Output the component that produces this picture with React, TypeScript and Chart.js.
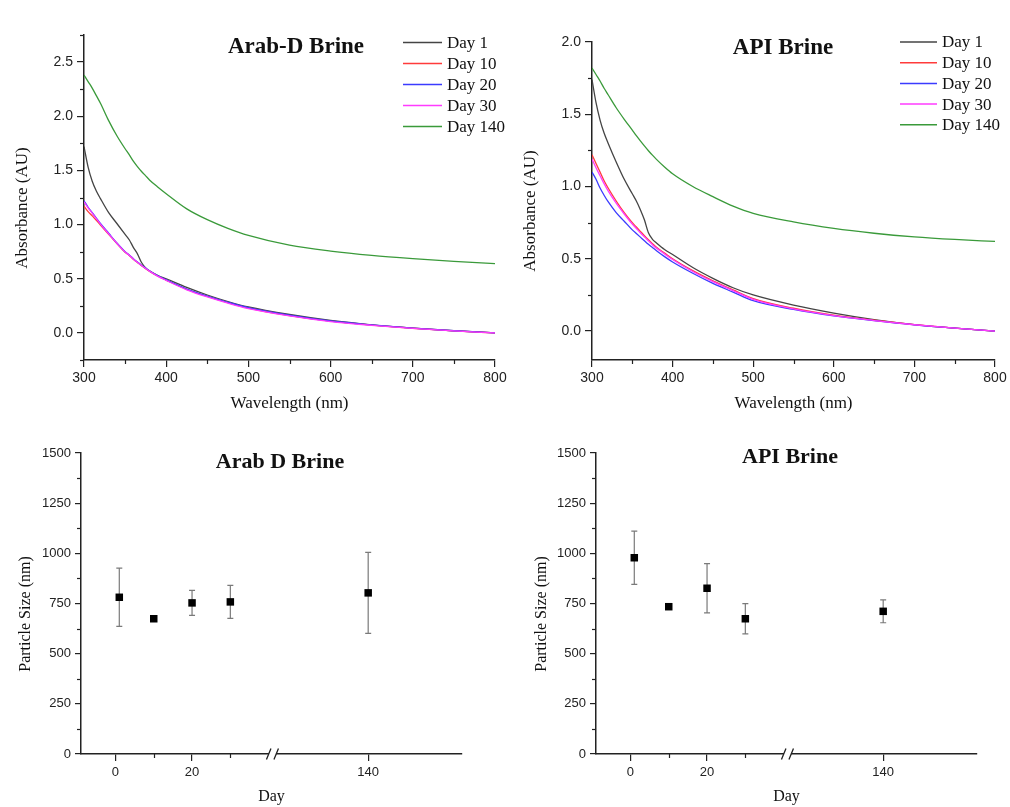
import React, { useEffect, useRef } from "react";
import { Chart, registerables } from "chart.js";

Chart.register(...registerables);

const PAGE_W = 1010;
const PAGE_H = 807;
const SANS = '"Liberation Sans", Arial, sans-serif';
const SERIF = '"Liberation Serif", "Times New Roman", serif';

// ---------- UV-Vis data ----------
const wavelengths = [300, 305, 310, 315, 320, 330, 340, 350, 355, 360, 365, 370, 375, 380, 390, 400, 425, 450, 475, 500, 550, 600, 650, 700, 750, 800];

const arabDay1 = [1.72, 1.53, 1.40, 1.31, 1.24, 1.11, 1.01, 0.91, 0.86, 0.79, 0.73, 0.65, 0.60, 0.57, 0.53, 0.50, 0.42, 0.35, 0.29, 0.24, 0.17, 0.115, 0.075, 0.045, 0.02, 0.0];
const arabDay10 = [1.17, 1.12, 1.08, 1.04, 0.995, 0.91, 0.825, 0.745, 0.715, 0.68, 0.65, 0.62, 0.593, 0.568, 0.523, 0.487, 0.402, 0.337, 0.28, 0.23, 0.16, 0.108, 0.072, 0.043, 0.019, 0.0];
const arabDay20 = [1.22, 1.16, 1.11, 1.06, 1.01, 0.92, 0.83, 0.75, 0.72, 0.685, 0.655, 0.625, 0.598, 0.572, 0.527, 0.49, 0.405, 0.34, 0.283, 0.233, 0.163, 0.11, 0.074, 0.045, 0.02, 0.0];
const arabDay30 = [1.21, 1.155, 1.105, 1.055, 1.005, 0.915, 0.828, 0.748, 0.717, 0.683, 0.652, 0.622, 0.594, 0.568, 0.522, 0.485, 0.398, 0.332, 0.275, 0.225, 0.157, 0.105, 0.07, 0.042, 0.018, 0.0];
const arabDay140 = [2.38, 2.32, 2.26, 2.19, 2.12, 1.96, 1.82, 1.70, 1.645, 1.585, 1.535, 1.49, 1.45, 1.41, 1.345, 1.285, 1.145, 1.045, 0.965, 0.90, 0.81, 0.755, 0.715, 0.685, 0.66, 0.64];

const apiDay1 = [1.74, 1.58, 1.46, 1.37, 1.30, 1.17, 1.05, 0.95, 0.90, 0.84, 0.77, 0.68, 0.635, 0.61, 0.565, 0.53, 0.44, 0.365, 0.30, 0.25, 0.18, 0.125, 0.08, 0.045, 0.02, 0.0];
const apiDay10 = [1.22, 1.16, 1.10, 1.04, 0.99, 0.90, 0.82, 0.75, 0.72, 0.69, 0.66, 0.632, 0.605, 0.58, 0.54, 0.50, 0.418, 0.348, 0.285, 0.225, 0.158, 0.11, 0.075, 0.045, 0.02, 0.0];
const apiDay20 = [1.10, 1.05, 0.99, 0.94, 0.895, 0.82, 0.76, 0.70, 0.675, 0.65, 0.625, 0.60, 0.578, 0.556, 0.515, 0.478, 0.40, 0.33, 0.27, 0.21, 0.15, 0.105, 0.072, 0.043, 0.02, 0.0];
const apiDay30 = [1.19, 1.13, 1.075, 1.02, 0.97, 0.885, 0.81, 0.74, 0.71, 0.68, 0.652, 0.625, 0.598, 0.574, 0.534, 0.495, 0.412, 0.342, 0.28, 0.22, 0.154, 0.107, 0.073, 0.044, 0.02, 0.0];
const apiDay140 = [1.82, 1.775, 1.73, 1.68, 1.635, 1.545, 1.465, 1.39, 1.352, 1.316, 1.281, 1.248, 1.217, 1.188, 1.135, 1.088, 1.00, 0.93, 0.865, 0.815, 0.755, 0.71, 0.677, 0.652, 0.634, 0.62];

const dayLabels = ["Day 1", "Day 10", "Day 20", "Day 30", "Day 140"];
const lineColors = ["#444444", "#ff3b3b", "#3b3bff", "#ff3bff", "#3a9a3a"];

// ---------- Particle size data ----------
const sampleDays = [1, 10, 20, 30, 140];
const arabSize = [781, 674, 753, 758, 803];
const arabErr = [145, 12, 62, 82, 202];
const apiSize = [978, 734, 826, 674, 711];
const apiErr = [133, 14, 123, 75, 57];

// ---------- tick values ----------
const uvXTicks = [300, 350, 400, 450, 500, 550, 600, 650, 700, 750, 800];
const arabYTicks = [-0.25, 0, 0.25, 0.5, 0.75, 1, 1.25, 1.5, 1.75, 2, 2.25, 2.5, 2.75];
const apiYTicks = [0, 0.25, 0.5, 0.75, 1, 1.25, 1.5, 1.75, 2];
const sizeYTicks = [0, 125, 250, 375, 500, 625, 750, 875, 1000, 1125, 1250, 1375, 1500];
const dayTicks = [0, 10, 20, 30, 140];
const dayTickLabels = ["0", "", "20", "", "140"];

// broken day axis: days after the break are shifted left
const BREAK_SHIFT = 74;
const BREAK_POS = 41;
const mapDay = (d: number) => (d >= 100 ? d - BREAK_SHIFT : d);

// ---------- decoration plugin ----------
const decoPlugin = {
  id: "deco",
  beforeDatasetsDraw(chart: any, _args: any, opts: any) {
    if (!opts || !opts.errors) return;
    const ctx = chart.ctx;
    const xs = chart.scales.x;
    const ys = chart.scales.y;
    const data = chart.data.datasets[0].data;
    ctx.save();
    ctx.strokeStyle = "#7a7a7a";
    ctx.lineWidth = 1.2;
    data.forEach((p: any, i: number) => {
      const e = opts.errors[i];
      const px = xs.getPixelForValue(p.x);
      const y1 = ys.getPixelForValue(p.y + e);
      const y2 = ys.getPixelForValue(p.y - e);
      ctx.beginPath();
      ctx.moveTo(px, y1);
      ctx.lineTo(px, y2);
      ctx.moveTo(px - 3, y1);
      ctx.lineTo(px + 3, y1);
      ctx.moveTo(px - 3, y2);
      ctx.lineTo(px + 3, y2);
      ctx.stroke();
    });
    ctx.restore();
  },
  afterDraw(chart: any, _args: any, opts: any) {
    const ctx = chart.ctx;
    const area = chart.chartArea;
    ctx.save();
    // minor ticks
    ctx.strokeStyle = "#222";
    ctx.lineWidth = 1.2;
    const xs = chart.scales.x;
    const ys = chart.scales.y;
    ys.ticks.forEach((t: any) => {
      if (t.label !== "") return;
      const py = Math.round(ys.getPixelForValue(t.value)) + 0.5;
      ctx.beginPath();
      ctx.moveTo(area.left, py);
      ctx.lineTo(area.left - 4, py);
      ctx.stroke();
    });
    xs.ticks.forEach((t: any) => {
      if (t.label !== "") return;
      const px = Math.round(xs.getPixelForValue(t.value)) + 0.5;
      ctx.beginPath();
      ctx.moveTo(px, area.bottom);
      ctx.lineTo(px, area.bottom + 4);
      ctx.stroke();
    });

    // axis break
    if (opts.breakAt !== undefined) {
      const px = xs.getPixelForValue(opts.breakAt);
      const py = area.bottom;
      ctx.fillStyle = "#ffffff";
      ctx.fillRect(px - 3.5, py - 2, 7, 4);
      ctx.strokeStyle = "#222";
      ctx.lineWidth = 1.3;
      ctx.beginPath();
      ctx.moveTo(px - 6, py + 5.5);
      ctx.lineTo(px - 1.5, py - 5.5);
      ctx.moveTo(px + 1.5, py + 5.5);
      ctx.lineTo(px + 6, py - 5.5);
      ctx.stroke();
    }

    // title
    ctx.fillStyle = "#111";
    ctx.font = `bold ${opts.titleSize}px ${SERIF}`;
    ctx.textAlign = "center";
    ctx.textBaseline = "alphabetic";
    ctx.fillText(opts.title, opts.titleX, opts.titleY);

    // legend
    if (opts.legend) {
      const lg = opts.legend;
      ctx.font = `17px ${SERIF}`;
      ctx.textAlign = "left";
      ctx.textBaseline = "middle";
      dayLabels.forEach((lab, i) => {
        const y = lg.y0 + i * lg.dy;
        ctx.strokeStyle = lineColors[i];
        ctx.lineWidth = 1.5;
        ctx.beginPath();
        ctx.moveTo(lg.x1, y);
        ctx.lineTo(lg.x2, y);
        ctx.stroke();
        ctx.fillStyle = "#111";
        ctx.fillText(lab, lg.tx, y + 1);
      });
    }

    // y-axis title
    ctx.save();
    ctx.translate(opts.yTitleX, opts.yTitleY);
    ctx.rotate(-Math.PI / 2);
    ctx.font = `${opts.yTitleSize}px ${SERIF}`;
    ctx.fillStyle = "#111";
    ctx.textAlign = "center";
    ctx.textBaseline = "middle";
    ctx.fillText(opts.yTitle, 0, 0);
    ctx.restore();

    ctx.restore();
  },
};

type Area = { l: number; r: number; t: number; b: number };

function layoutFor(area: Area, xTitleCY: number, xTitleSize: number) {
  const yW = 40;
  const xH = xTitleCY + (xTitleSize * 1.2) / 2 - area.b;
  return {
    yW,
    xH,
    padding: {
      left: area.l - yW,
      right: PAGE_W - area.r,
      top: area.t,
      bottom: PAGE_H - area.b - xH,
    },
  };
}

function tickColorFn(c: any) {
  return c.tick && c.tick.label === "" ? "rgba(0,0,0,0)" : "#222";
}

function uvConfig(series: number[][], area: Area, yMin: number, yMax: number, yTicks: number[], deco: any) {
  const lay = layoutFor(area, 404, 17);
  return {
    type: "line",
    data: {
      datasets: series.map((vals, i) => ({
        label: dayLabels[i],
        data: wavelengths.map((w, j) => ({ x: w, y: vals[j] })),
        borderColor: lineColors[i],
        borderWidth: 1.3,
        pointRadius: 0,
        fill: false,
        cubicInterpolationMode: "monotone",
        order: -i,
      })),
    },
    options: {
      responsive: false,
      animation: false,
      devicePixelRatio: 1,
      layout: { padding: lay.padding },
      plugins: { legend: { display: false }, tooltip: { enabled: false }, deco },
      scales: {
        x: {
          type: "linear",
          position: "bottom",
          min: 300,
          max: 800,
          afterBuildTicks: (s: any) => {
            s.ticks = uvXTicks.map((v) => ({ value: v }));
          },
          afterFit: (s: any) => {
            s.height = lay.xH;
          },
          ticks: {
            autoSkip: false,
            maxRotation: 0,
            padding: 3,
            color: "#222",
            font: { family: SANS, size: 14 },
            callback: (v: any) => (Number(v) % 100 === 0 ? String(v) : ""),
          },
          grid: { display: true, drawOnChartArea: false, drawTicks: true, tickLength: 7, tickColor: tickColorFn, lineWidth: 1.2 },
          border: { display: true, color: "#222", width: 1.5 },
          title: { display: true, text: "Wavelength (nm)", color: "#111", padding: 0, font: { family: SERIF, size: 17 } },
        },
        y: {
          type: "linear",
          position: "left",
          min: yMin,
          max: yMax,
          afterBuildTicks: (s: any) => {
            s.ticks = yTicks.map((v) => ({ value: v }));
          },
          afterFit: (s: any) => {
            s.width = lay.yW;
          },
          ticks: {
            autoSkip: false,
            padding: 4,
            color: "#222",
            font: { family: SANS, size: 14 },
            callback: (v: any) => {
              const n = Number(v);
              return Math.abs(n * 2 - Math.round(n * 2)) < 1e-6 ? n.toFixed(1) : "";
            },
          },
          grid: { display: true, drawOnChartArea: false, drawTicks: true, tickLength: 7, tickColor: tickColorFn, lineWidth: 1.2 },
          border: { display: true, color: "#222", width: 1.5 },
        },
      },
    },
    plugins: [decoPlugin],
  };
}

function sizeConfig(sizes: number[], area: Area, deco: any) {
  const lay = layoutFor(area, 797, 16);
  return {
    type: "scatter",
    data: {
      datasets: [
        {
          label: "Particle size",
          data: sampleDays.map((d, i) => ({ x: mapDay(d), y: sizes[i] })),
          backgroundColor: "#000",
          borderWidth: 0,
          pointStyle: "rect",
          pointRadius: 5.3,
          showLine: false,
        },
      ],
    },
    options: {
      responsive: false,
      animation: false,
      devicePixelRatio: 1,
      layout: { padding: lay.padding },
      plugins: { legend: { display: false }, tooltip: { enabled: false }, deco },
      scales: {
        x: {
          type: "linear",
          position: "bottom",
          min: -9,
          max: 90.5,
          afterBuildTicks: (s: any) => {
            s.ticks = dayTicks.map((d) => ({ value: mapDay(d) }));
          },
          afterFit: (s: any) => {
            s.height = lay.xH;
          },
          ticks: {
            autoSkip: false,
            maxRotation: 0,
            padding: 4,
            color: "#222",
            font: { family: SANS, size: 13 },
            callback: (_v: any, i: number) => dayTickLabels[i],
          },
          grid: { display: true, drawOnChartArea: false, drawTicks: true, tickLength: 7, tickColor: tickColorFn, lineWidth: 1.2 },
          border: { display: true, color: "#222", width: 1.5 },
          title: { display: true, text: "Day", color: "#111", padding: 0, font: { family: SERIF, size: 16 } },
        },
        y: {
          type: "linear",
          position: "left",
          min: 0,
          max: 1500,
          afterBuildTicks: (s: any) => {
            s.ticks = sizeYTicks.map((v) => ({ value: v }));
          },
          afterFit: (s: any) => {
            s.width = lay.yW;
          },
          ticks: {
            autoSkip: false,
            padding: 4,
            color: "#222",
            font: { family: SANS, size: 13 },
            callback: (v: any) => (Number(v) % 250 === 0 ? String(v) : ""),
          },
          grid: { display: true, drawOnChartArea: false, drawTicks: true, tickLength: 6, tickColor: tickColorFn, lineWidth: 1.2 },
          border: { display: true, color: "#222", width: 1.5 },
        },
      },
    },
    plugins: [decoPlugin],
  };
}

const configs = [
  () =>
    uvConfig([arabDay1, arabDay10, arabDay20, arabDay30, arabDay140], { l: 84, r: 495, t: 35, b: 360 }, -0.25, 2.75, arabYTicks, {
      title: "Arab-D Brine",
      titleSize: 23,
      titleX: 296,
      titleY: 53,
      legend: { x1: 403, x2: 442, tx: 447, y0: 42.5, dy: 21 },
      yTitle: "Absorbance (AU)",
      yTitleSize: 17,
      yTitleX: 23,
      yTitleY: 208,
    }),
  () =>
    uvConfig([apiDay1, apiDay10, apiDay20, apiDay30, apiDay140], { l: 592, r: 995, t: 42, b: 360 }, -0.2, 2.0, apiYTicks, {
      title: "API Brine",
      titleSize: 23,
      titleX: 783,
      titleY: 54,
      legend: { x1: 900, x2: 937, tx: 942, y0: 42, dy: 20.7 },
      yTitle: "Absorbance (AU)",
      yTitleSize: 17,
      yTitleX: 531,
      yTitleY: 211,
    }),
  () =>
    sizeConfig(arabSize, { l: 81, r: 462, t: 453, b: 754 }, {
      title: "Arab D Brine",
      titleSize: 22,
      titleX: 280,
      titleY: 468,
      errors: arabErr,
      breakAt: BREAK_POS,
      yTitle: "Particle Size (nm)",
      yTitleSize: 16,
      yTitleX: 26,
      yTitleY: 614,
    }),
  () =>
    sizeConfig(apiSize, { l: 596, r: 977, t: 453, b: 754 }, {
      title: "API Brine",
      titleSize: 22,
      titleX: 790,
      titleY: 463,
      errors: apiErr,
      breakAt: BREAK_POS,
      yTitle: "Particle Size (nm)",
      yTitleSize: 16,
      yTitleX: 542,
      yTitleY: 614,
    }),
];

function ChartLayer({ make }: { make: () => any }) {
  const ref = useRef<HTMLCanvasElement | null>(null);
  useEffect(() => {
    if (!ref.current) return;
    const chart = new Chart(ref.current, make());
    return () => chart.destroy();
  }, [make]);
  return (
    <canvas
      ref={ref}
      width={PAGE_W}
      height={PAGE_H}
      style={{ position: "absolute", left: 0, top: 0, width: PAGE_W, height: PAGE_H }}
    />
  );
}

export default function App() {
  return (
    <div style={{ position: "absolute", left: 0, top: 0, width: PAGE_W, height: PAGE_H, background: "#ffffff", overflow: "hidden" }}>
      {configs.map((make, i) => (
        <ChartLayer key={i} make={make} />
      ))}
    </div>
  );
}
